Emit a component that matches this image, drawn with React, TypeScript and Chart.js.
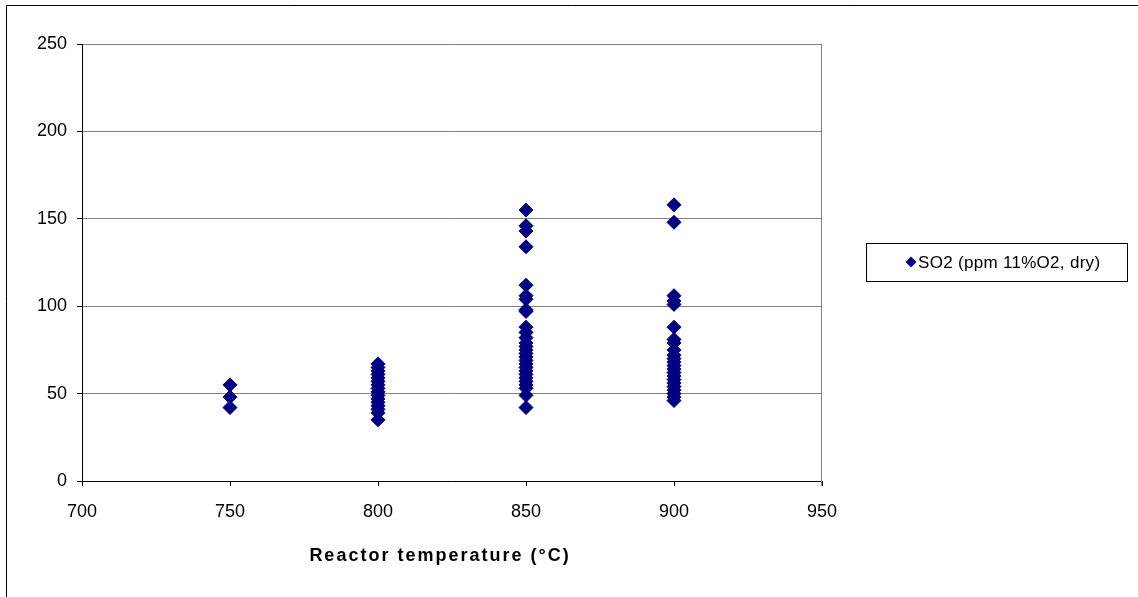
import React, { useEffect, useRef } from "react";
import { Chart, registerables } from "chart.js";

Chart.register(...registerables);

const temperatures = [750, 800, 850, 900];
const so2At750 = [55, 48, 42];
const so2At800 = [67, 65, 63, 61, 59, 57, 55, 53, 51, 49, 47, 45, 43, 41, 39, 35];
const so2At850 = [155, 146, 143, 134, 112, 106, 104, 98, 97, 88, 85, 82, 79, 77, 75, 73, 71, 69, 67, 65, 63, 61, 59, 57, 55, 53, 49, 42];
const so2At900 = [158, 148, 106, 103, 101, 88, 81, 79, 75, 72, 70, 68, 66, 64, 62, 60, 58, 56, 54, 52, 50, 48, 46];
const xTicks = [700, 750, 800, 850, 900, 950];
const yTicks = [0, 50, 100, 150, 200, 250];
const seriesLabel = "SO2 (ppm 11%O2, dry)";
const xTitle = "Reactor temperature (°C)";

const FONT = "'Liberation Sans', Arial, sans-serif";
const NAVY = "#000080";

export default function App() {
  const ref = useRef<HTMLCanvasElement | null>(null);

  useEffect(() => {
    const canvas = ref.current;
    if (!canvas) return;
    const groups = [so2At750, so2At800, so2At850, so2At900];
    const points: { x: number; y: number }[] = [];
    groups.forEach((vals, i) => vals.forEach((v) => points.push({ x: temperatures[i], y: v })));

    const decor = {
      id: "decor",
      beforeDraw(chart: any) {
        const ctx = chart.ctx;
        ctx.save();
        ctx.fillStyle = "#fff";
        ctx.fillRect(0, 0, chart.width, chart.height);
        ctx.strokeStyle = "#000";
        ctx.lineWidth = 1;
        ctx.beginPath();
        ctx.moveTo(6.5, chart.height + 5);
        ctx.lineTo(6.5, 5.5);
        ctx.lineTo(chart.width + 5, 5.5);
        ctx.stroke();
        ctx.restore();
      },
      beforeDatasetsDraw(chart: any) {
        const ctx = chart.ctx;
        const a = chart.chartArea;
        ctx.save();
        ctx.strokeStyle = "#808080";
        ctx.lineWidth = 1;
        ctx.beginPath();
        const rx = Math.round(a.right) - 0.5;
        ctx.moveTo(rx, a.top);
        ctx.lineTo(rx, a.bottom + 5);
        ctx.stroke();
        ctx.restore();
      },
      afterDraw(chart: any) {
        const ctx = chart.ctx;
        ctx.save();
        // axis title
        ctx.fillStyle = "#000";
        ctx.font = `bold 18px ${FONT}`;
        (ctx as any).letterSpacing = "2px";
        ctx.textAlign = "center";
        ctx.textBaseline = "middle";
        ctx.fillText(xTitle, 440, 556);
        (ctx as any).letterSpacing = "0px";
        // legend
        ctx.strokeStyle = "#000";
        ctx.lineWidth = 1;
        ctx.strokeRect(866.5, 243.5, 261, 38);
        const mx = 911, my = 262, s = 5.5;
        ctx.fillStyle = NAVY;
        ctx.beginPath();
        ctx.moveTo(mx, my - s);
        ctx.lineTo(mx + s, my);
        ctx.lineTo(mx, my + s);
        ctx.lineTo(mx - s, my);
        ctx.closePath();
        ctx.fill();
        ctx.fillStyle = "#000";
        ctx.font = `17px ${FONT}`;
        (ctx as any).letterSpacing = "0.3px";
        ctx.textAlign = "left";
        ctx.fillText(seriesLabel, 918, 263);
        (ctx as any).letterSpacing = "0px";
        ctx.restore();
      },
    };

    const chart = new Chart(canvas, {
      type: "scatter",
      data: {
        datasets: [
          {
            label: seriesLabel,
            data: points,
            backgroundColor: NAVY,
            borderColor: NAVY,
            pointStyle: "rectRot",
            pointRadius: 7,
            borderWidth: 1,
          },
        ],
      },
      options: {
        responsive: false,
        animation: false,
        events: [],
        layout: { padding: { top: 44, right: 316, left: 0, bottom: 0 } },
        plugins: { legend: { display: false }, tooltip: { enabled: false } },
        scales: {
          x: {
            type: "linear",
            min: xTicks[0],
            max: xTicks[xTicks.length - 1],
            afterBuildTicks: (scale: any) => {
              scale.ticks = xTicks.map((v) => ({ value: v }));
            },
            afterFit: (scale: any) => {
              scale.height = 116;
            },
            ticks: { color: "#000", font: { size: 18, family: FONT }, padding: 15, maxRotation: 0 },
            grid: { drawOnChartArea: false, drawTicks: true, tickLength: 5, color: "#000" },
            border: { color: "#000", width: 1 },
          },
          y: {
            type: "linear",
            min: yTicks[0],
            max: yTicks[yTicks.length - 1],
            afterBuildTicks: (scale: any) => {
              scale.ticks = yTicks.map((v) => ({ value: v }));
            },
            afterFit: (scale: any) => {
              scale.width = 82;
            },
            ticks: { color: "#000", font: { size: 18, family: FONT }, padding: 10 },
            grid: { color: "#808080", tickColor: "#000", tickLength: 5 },
            border: { color: "#000", width: 1 },
          },
        },
      },
      plugins: [decor],
    } as any);
    return () => chart.destroy();
  }, []);

  return (
    <div style={{ position: "fixed", left: 0, top: 0, width: 1138, height: 597, background: "#fff" }}>
      <canvas ref={ref} width={1138} height={597} style={{ display: "block", width: 1138, height: 597 }} />
    </div>
  );
}
